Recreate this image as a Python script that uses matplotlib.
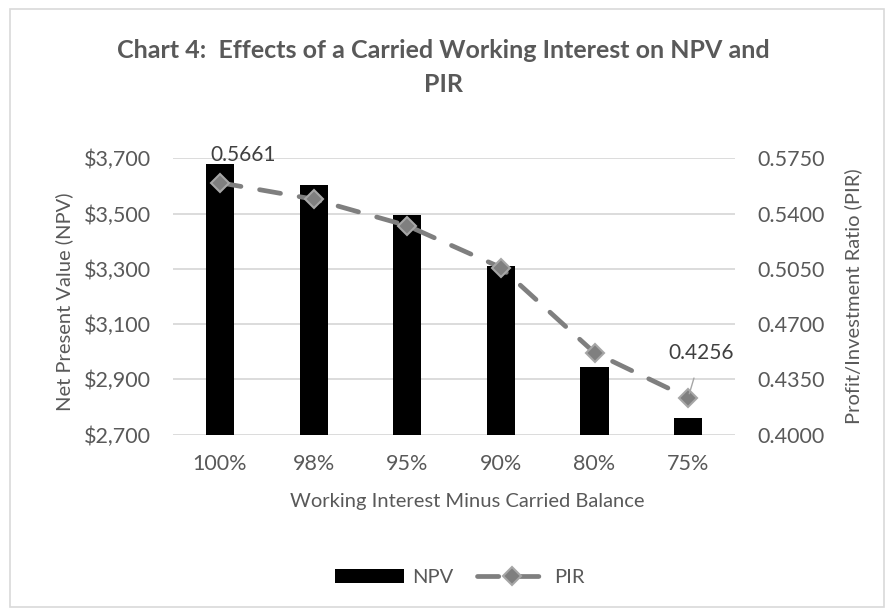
import matplotlib.pyplot as plt
from matplotlib.patches import Rectangle
from matplotlib.ticker import FuncFormatter

# data
categories = ['100%', '98%', '95%', '90%', '80%', '75%']
npv = [3678, 3605, 3494, 3309, 2945, 2759]
pir = [0.5595, 0.5491, 0.5323, 0.5058, 0.4518, 0.4233]
pir_labels = ['0.5661', '', '', '', '', '0.4256']

TXT = '#595959'
GRID = '#d9d9d9'
plt.rcParams['font.family'] = ['Lato', 'DejaVu Sans']

fig = plt.figure(figsize=(8.86, 6.10), dpi=100)
ax = fig.add_axes([0.1955, 0.2877, 0.634, 0.4528])
ax2 = ax.twinx()

x = range(len(categories))
bars = ax.bar(x, npv, width=0.30, color='black', zorder=2, label='NPV')
ax.set_ylim(2700, 3700)
ax.set_yticks(range(2700, 3701, 200))
ax.yaxis.set_major_formatter(FuncFormatter(lambda v, p: '${:,.0f}'.format(v)))
ax.set_xlim(-0.5, len(categories) - 0.5)
ax.set_xticks(list(x))
ax.set_xticklabels(categories)
ax.grid(axis='y', color=GRID, lw=1.3, zorder=0)
ax.set_axisbelow(True)

line, = ax2.plot(x, pir, color='#7f7f7f', lw=3.4, dashes=(4.5, 4),
                 dash_capstyle='round', marker='D', markersize=9,
                 markerfacecolor='#7f7f7f', markeredgecolor='#a6a6a6',
                 markeredgewidth=1.5, zorder=3, label='PIR')
ax2.set_ylim(0.4, 0.575)
ax2.set_yticks([0.4, 0.435, 0.47, 0.505, 0.54, 0.575])
ax2.yaxis.set_major_formatter(FuncFormatter(lambda v, p: '{:.4f}'.format(v)))

ax2.annotate(pir_labels[0], (0, pir[0]), xytext=(-7, 20), textcoords='offset points',
             fontsize=15, color='#404040', ha='left', va='center')
ax2.annotate(pir_labels[5], (5, pir[5]), xytext=(9.5, 32), textcoords='offset points',
             fontsize=15, color='#404040', ha='center', va='center',
             arrowprops=dict(arrowstyle='-', color='#a6a6a6', lw=1, shrinkA=9, shrinkB=3))

for a in (ax, ax2):
    for s in a.spines.values():
        s.set_visible(False)
    a.tick_params(length=0, labelsize=15.5, labelcolor=TXT, pad=16)
ax.tick_params(axis='x', pad=14)

ax.set_ylabel('Net Present Value (NPV)', fontsize=14.5, color=TXT)
ax.yaxis.set_label_coords(-0.179, 0.48)
ax2.set_ylabel('Profit/Investment Ratio (PIR)', fontsize=14.5, color=TXT)
ax2.yaxis.set_label_coords(1.194, 0.5)
ax.set_xlabel('Working Interest Minus Carried Balance', fontsize=14.5, color=TXT)
ax.xaxis.set_label_coords(0.524, -0.212)

fig.text(0.5, 0.918, 'Chart 4:  Effects of a Carried Working Interest on NPV and',
         ha='center', va='center', fontsize=18, fontweight='bold', color=TXT)
fig.text(0.5, 0.861, 'PIR', ha='center', va='center', fontsize=18,
         fontweight='bold', color=TXT)

fig.legend(handles=[bars, line], loc='center', bbox_to_anchor=(0.519, 0.054), ncol=2,
           frameon=False, fontsize=14.5, labelcolor=TXT, handlelength=3.4,
           handleheight=0.7, columnspacing=1.2, handletextpad=0.4)

fig.patches.append(Rectangle((0.011, 0.005), 0.987, 0.98, transform=fig.transFigure,
                             fill=False, edgecolor=GRID, lw=1.2))

fig.savefig('out.png', dpi=100)
